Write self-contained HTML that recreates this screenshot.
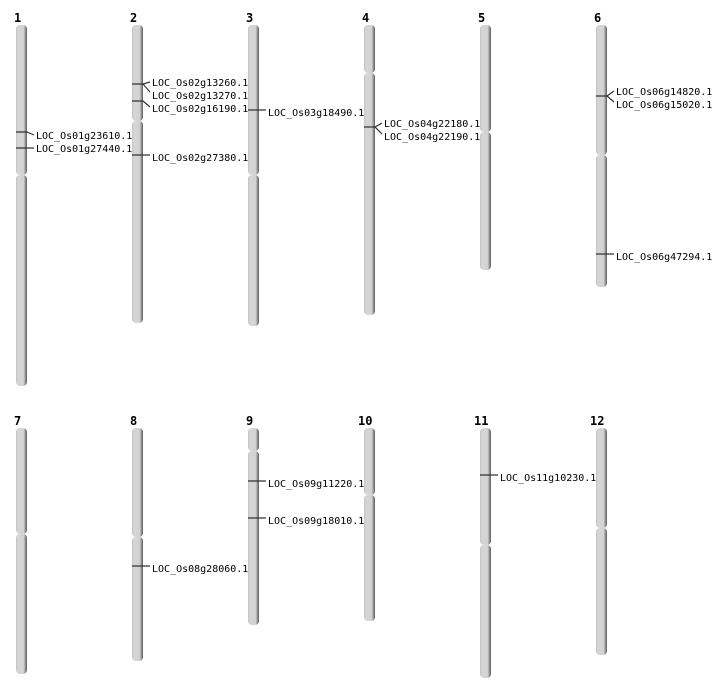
<!DOCTYPE html>
<html><head><meta charset="utf-8"><style>body{margin:0;background:#fff}svg{display:block}</style></head><body>
<svg width="712" height="700" xmlns="http://www.w3.org/2000/svg">
<defs><linearGradient id="g" x1="0" x2="1" y1="0" y2="0">
<stop offset="0" stop-color="#c4c4c4"/><stop offset="0.2" stop-color="#d6d6d6"/><stop offset="0.7" stop-color="#d2d2d2"/><stop offset="0.82" stop-color="#a0a0a0"/><stop offset="1" stop-color="#5a5a5a"/></linearGradient></defs>
<g fill="url(#g)">
<rect x="16" y="25" width="11" height="150" rx="4"/><rect x="16" y="175" width="11" height="211" rx="4"/>
<rect x="132" y="25" width="11" height="96" rx="4"/><rect x="132" y="121" width="11" height="202" rx="4"/>
<rect x="248" y="25" width="11" height="150" rx="4"/><rect x="248" y="175" width="11" height="151" rx="4"/>
<rect x="364" y="25" width="11" height="48" rx="4"/><rect x="364" y="73" width="11" height="242" rx="4"/>
<rect x="480" y="25" width="11" height="107" rx="4"/><rect x="480" y="132" width="11" height="138" rx="4"/>
<rect x="596" y="25" width="11" height="130" rx="4"/><rect x="596" y="155" width="11" height="132" rx="4"/>
<rect x="16" y="428" width="11" height="106" rx="4"/><rect x="16" y="534" width="11" height="140" rx="4"/>
<rect x="132" y="428" width="11" height="109" rx="4"/><rect x="132" y="537" width="11" height="124" rx="4"/>
<rect x="248" y="428" width="11" height="23" rx="4"/><rect x="248" y="451" width="11" height="174" rx="4"/>
<rect x="364" y="428" width="11" height="67" rx="4"/><rect x="364" y="495" width="11" height="126" rx="4"/>
<rect x="480" y="428" width="11" height="117" rx="4"/><rect x="480" y="545" width="11" height="133" rx="4"/>
<rect x="596" y="428" width="11" height="100" rx="4"/><rect x="596" y="528" width="11" height="127" rx="4"/>
</g>
<g font-family="DejaVu Sans Mono, Liberation Mono, monospace" font-weight="bold" font-size="12" fill="#000">
<text x="14" y="22">1</text><text x="130" y="22">2</text><text x="246" y="22">3</text><text x="362" y="22">4</text><text x="478" y="22">5</text><text x="594" y="22">6</text>
<text x="14" y="425">7</text><text x="130" y="425">8</text><text x="246" y="425">9</text><text x="358" y="425">10</text><text x="474" y="425">11</text><text x="590" y="425">12</text>
</g>
<g stroke="#333" stroke-width="1.2" fill="none">
<path d="M16 132H27L34 135"/><path d="M16 148H27L34 148"/>
<path d="M132 84H143L150 82M143 84L150 92"/><path d="M132 101H143L150 107"/><path d="M132 155H150"/>
<path d="M248 110H266"/>
<path d="M364 127H375L382 123M375 127L382 134"/>
<path d="M596 96H607L614 91M607 96L614 102"/><path d="M596 254H614"/>
<path d="M132 566H150"/><path d="M248 481H266"/><path d="M248 518H266"/><path d="M480 475H498"/>
</g>
<g font-family="DejaVu Sans Mono, Liberation Mono, monospace" font-size="10" fill="#000">
<text x="36" y="139">LOC_Os01g23610.1</text><text x="36" y="152">LOC_Os01g27440.1</text>
<text x="152" y="86">LOC_Os02g13260.1</text><text x="152" y="99">LOC_Os02g13270.1</text><text x="152" y="112">LOC_Os02g16190.1</text><text x="152" y="161">LOC_Os02g27380.1</text>
<text x="268" y="116">LOC_Os03g18490.1</text>
<text x="384" y="127">LOC_Os04g22180.1</text><text x="384" y="140">LOC_Os04g22190.1</text>
<text x="616" y="95">LOC_Os06g14820.1</text><text x="616" y="108">LOC_Os06g15020.1</text><text x="616" y="260">LOC_Os06g47294.1</text>
<text x="152" y="572">LOC_Os08g28060.1</text>
<text x="268" y="487">LOC_Os09g11220.1</text><text x="268" y="524">LOC_Os09g18010.1</text>
<text x="500" y="481">LOC_Os11g10230.1</text>
</g>
</svg>
</body></html>
